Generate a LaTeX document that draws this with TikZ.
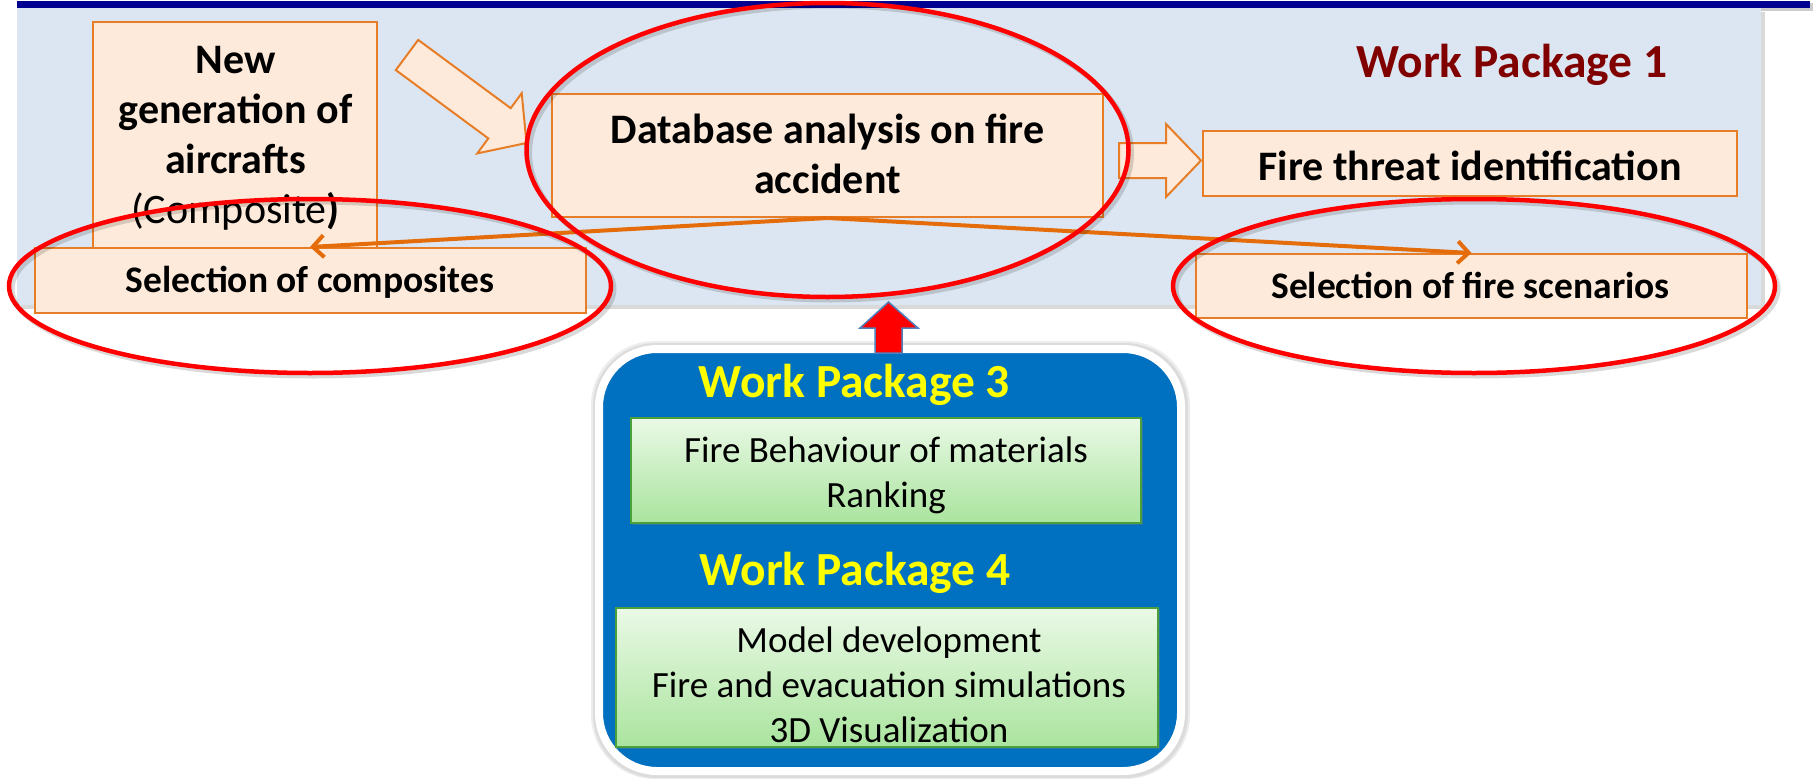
\documentclass[tikz,border=0pt]{standalone}
\usepackage{fontspec}
\setmainfont{Carlito}
\usetikzlibrary{shadows,arrows.meta,shapes.geometric}
\definecolor{panelbg}{RGB}{220,230,242}
\definecolor{topbar}{RGB}{0,0,145}
\definecolor{boxfill}{RGB}{253,234,218}
\definecolor{boxdraw}{RGB}{232,125,40}
\definecolor{linkcol}{RGB}{228,108,10}
\definecolor{wpred}{RGB}{128,0,0}
\definecolor{wpblue}{RGB}{0,112,192}
\definecolor{greentop}{RGB}{234,249,230}
\definecolor{greenbot}{RGB}{170,228,158}
\definecolor{greendraw}{RGB}{76,160,60}
\definecolor{arrowblue}{RGB}{79,129,189}
\definecolor{ringred}{RGB}{255,0,0}
\definecolor{wpyellow}{RGB}{255,255,0}
\tikzset{
  obox/.style={draw=boxdraw, fill=boxfill, line width=2pt, inner sep=0pt},
  gbox/.style={draw=greendraw, top color=greentop, bottom color=greenbot, line width=2pt, inner sep=0pt,
    drop shadow={shadow xshift=2pt, shadow yshift=-2pt, opacity=0.35}},
  bigtext/.style={font=\fontsize{42}{50}\selectfont\bfseries, align=center, inner sep=0pt},
  midtext/.style={font=\fontsize{37.5}{45}\selectfont\bfseries, inner sep=0pt},
  plaintext/.style={font=\fontsize{37}{44.8}\selectfont, align=center, inner sep=0pt},
  wplabel/.style={font=\fontsize{47.5}{56}\selectfont\bfseries, inner sep=0pt},
  link/.style={draw=linkcol, line width=4pt, -{Straight Barb[length=11pt, width=22pt, line width=4pt]}},
  ring/.style={ellipse, draw=ringred, line width=4.5pt, inner sep=0pt},
  ringshade/.style={ellipse, draw=black, opacity=0.15, line width=5pt, inner sep=0pt},
  blockarrow/.style={fill=boxfill, draw=boxdraw, line width=2pt, line join=miter},
  bluebox/.style={fill=wpblue, draw=white, line width=8pt, rounded corners=58pt, inner sep=0pt}
}
\begin{document}
\begin{tikzpicture}[x=1pt,y=-1pt]
\useasboundingbox (0,0) rectangle (1816,779);
% top bar and panel
\fill[black, opacity=0.2] (20,3) rectangle (1813,11);
\fill[topbar] (17,0.5) rectangle (1810,8);
\fill[panelbg, drop shadow={shadow xshift=4pt, shadow yshift=-4pt, opacity=0.3}] (17,8) rectangle (1761,305);
% boxes
\node[obox, minimum width=284pt, minimum height=226pt] (newgen) at (235,135) {};
\node[bigtext, anchor=base] (newgen-t) at (235.5,223) {New\\generation of\\aircrafts\\{\mdseries(Composite})};
\node[obox, minimum width=551pt, minimum height=65pt] (selcomp) at (310,280.5) {};
\node[midtext, anchor=base] (selcomp-t) at (310,292.7) {Selection of composites};
\node[obox, minimum width=551pt, minimum height=123pt] (database) at (827.5,155.5) {};
\node[bigtext, anchor=base] (database-t) at (827.5,193.3) {Database analysis on fire\\accident};
\node[obox, minimum width=534pt, minimum height=65pt] (firethreat) at (1470,163.5) {};
\node[bigtext, anchor=base] (firethreat-t) at (1470,180) {Fire threat identification};
\node[obox, minimum width=551pt, minimum height=64pt] (selfire) at (1471.5,286) {};
\node[midtext, anchor=base] (selfire-t) at (1470.5,298) {Selection of fire scenarios};
\node[wplabel, text=wpred, anchor=base] (wp1) at (1512,77) {Work Package 1};
% block arrows
\draw[blockarrow] (395.8,70.1) -- (418.2,39.9) -- (510.7,108.2) -- (521.7,93.2) -- (526.5,143)
  -- (477.3,153.4) -- (488.3,138.4) -- cycle;
\draw[blockarrow] (1119,143) -- (1166,143) -- (1166,124) -- (1201,160.5) -- (1166,197) -- (1166,178) -- (1119,178) -- cycle;
% links
\draw[link] (database.south) -- (selcomp.north);
\draw[link] (database.south) -- (selfire.north);
% red rings
\node[ringshade, minimum width=602pt, minimum height=174pt] at (313,289) {};
\node[ringshade, minimum width=602pt, minimum height=294pt] at (830.5,153) {};
\node[ringshade, minimum width=602pt, minimum height=174pt] at (1477,289) {};
\node[ring, minimum width=602pt, minimum height=174pt] (ringL) at (310,286) {};
\node[ring, minimum width=602pt, minimum height=294pt] (ringC) at (827.5,150) {};
\node[ring, minimum width=602pt, minimum height=174pt] (ringR) at (1474,286) {};
% blue box
\fill[black, opacity=0.07, rounded corners=64pt] (591,341) rectangle (1190,779);
\fill[black, opacity=0.07, rounded corners=63pt] (593,343) rectangle (1188,778);
\node[bluebox, minimum width=582pt, minimum height=422pt] (wpbox) at (890,560) {};
% red up arrow
\draw[fill=red, draw=arrowblue, line width=1.5pt, line join=miter] (875,353) -- (875,328) -- (860,328) -- (888.5,302)
  -- (918,328) -- (902,328) -- (902,353) -- cycle;
% WP3 / WP4
\node[wplabel, text=wpyellow, anchor=base] (wp3) at (854.5,397) {Work Package 3};
\node[gbox, minimum width=510pt, minimum height=105pt] (wp3box) at (886,470) {};
\node[plaintext, anchor=base] (wp3-t) at (886,507) {Fire Behaviour of materials\\Ranking};
\node[wplabel, text=wpyellow, anchor=base] (wp4) at (855,585) {Work Package 4};
\node[gbox, minimum width=542pt, minimum height=139pt] (wp4box) at (887,677.5) {};
\node[plaintext, anchor=base] (wp4-t) at (889,742) {Model development\\Fire and evacuation simulations\\3D Visualization};
\end{tikzpicture}
\end{document}
